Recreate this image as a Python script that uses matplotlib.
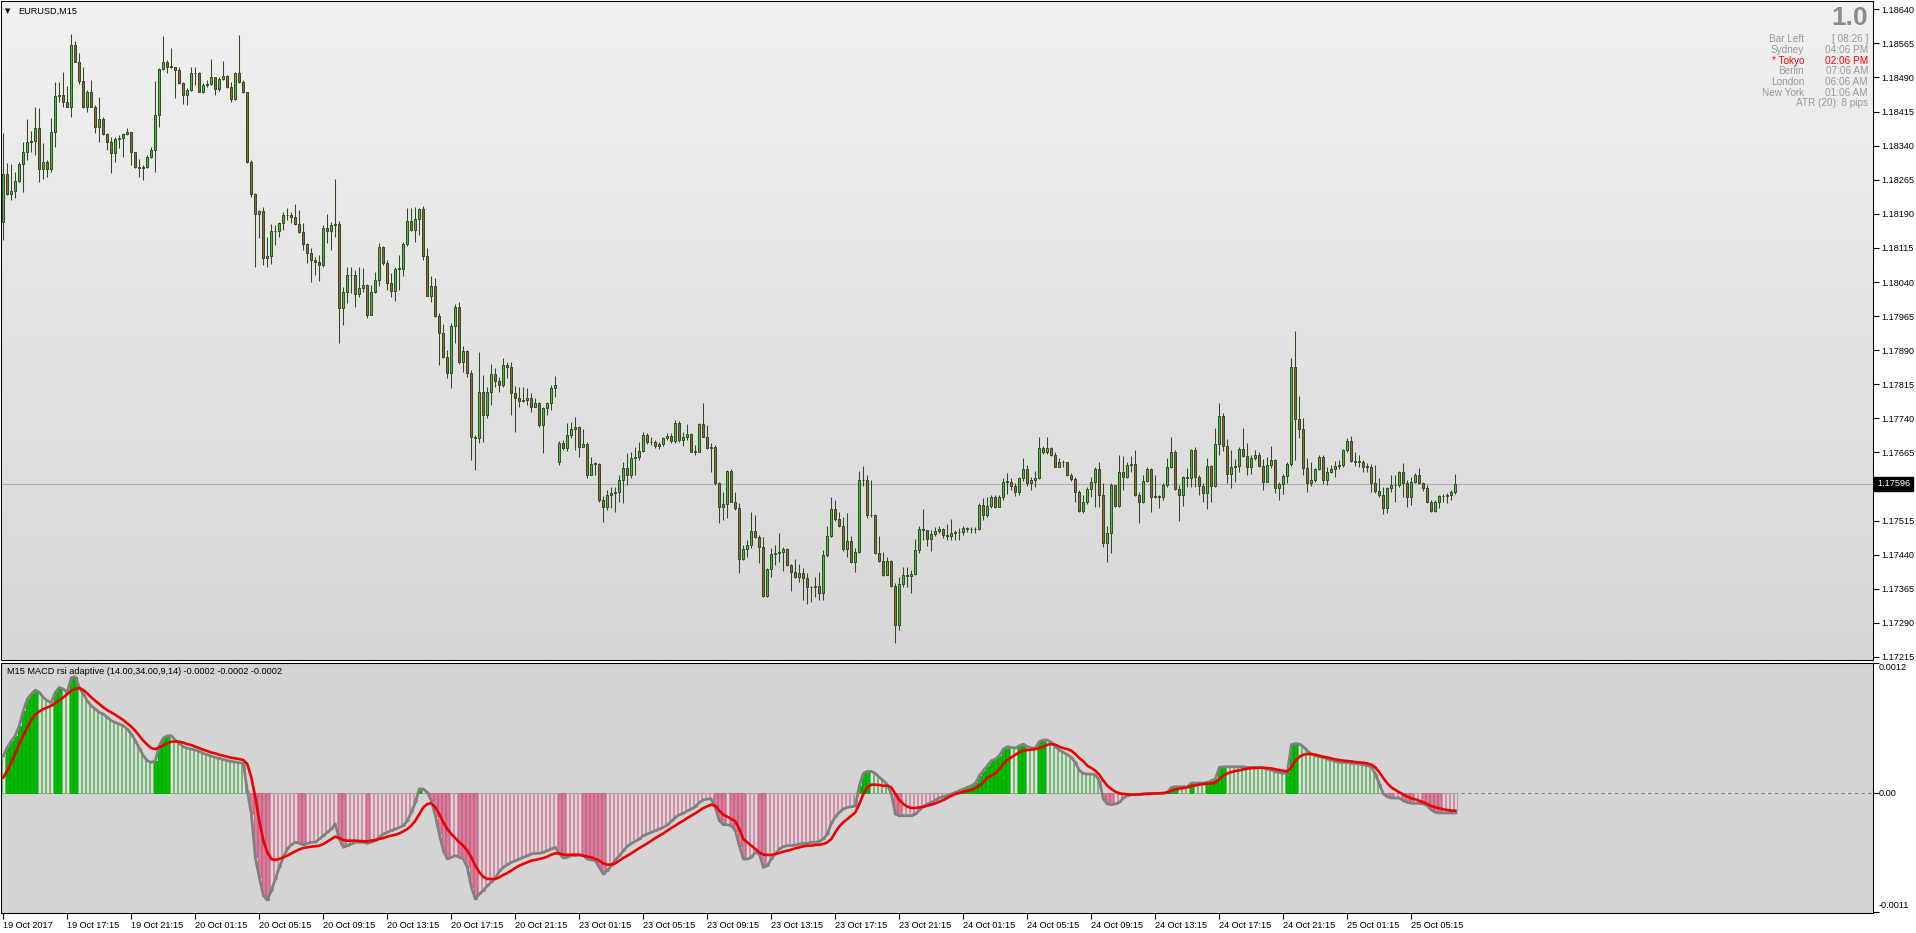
import numpy as np
import matplotlib.pyplot as plt
from matplotlib.colors import LinearSegmentedColormap

plt.rcParams['font.family'] = ['Liberation Sans', 'DejaVu Sans']

W, H = 1916, 933

# EURUSD M15 candles, prices given in pips above 1.17000
BASE = 1.17
PIP = 0.0001
closes = [
    127.8, 123.4, 124.0, 126.3, 130.0, 132.7, 134.7, 135.0, 137.8, 128.8,
    130.3, 128.9, 136.9, 144.9, 145.1, 143.7, 142.6, 156.1, 152.5, 148.3,
    142.6, 145.7, 142.6, 138.2, 139.8, 136.5, 134.7, 132.3, 135.5, 135.7,
    136.5, 136.9, 132.5, 129.4, 129.1, 129.4, 131.6, 133.0, 140.7, 150.8,
    152.3, 151.4, 151.3, 150.7, 147.7, 145.2, 146.3, 149.9, 149.9, 145.7,
    147.4, 147.6, 149.0, 146.4, 148.6, 149.3, 147.0, 144.3, 149.9, 148.1,
    145.7, 130.3, 123.3, 118.9, 119.6, 109.2, 109.7, 115.2, 115.2, 117.0,
    118.7, 118.7, 118.4, 116.8, 115.1, 112.3, 110.4, 108.8, 108.5, 107.7,
    115.8, 115.3, 116.5, 116.7, 98.3, 101.7, 105.5, 105.5, 101.3, 102.6,
    103.3, 96.7, 101.7, 104.4, 111.6, 108.1, 103.7, 102.1, 106.9, 106.9,
    112.4, 117.4, 115.4, 117.8, 120.0, 109.8, 101.0, 103.1, 96.6, 92.7,
    87.4, 83.9, 94.3, 98.6, 86.3, 88.8, 83.9, 69.8, 69.7, 79.7,
    74.7, 79.7, 83.7, 82.2, 81.3, 85.7, 85.4, 79.5, 78.5, 77.9,
    78.0, 78.4, 76.6, 77.3, 72.5, 76.2, 77.3, 80.6, 81.3, 68.5,
    67.4, 70.3, 71.7, 72.2, 67.6, 68.3, 61.5, 64.0, 64.0, 56.0,
    54.6, 57.1, 57.5, 57.9, 60.4, 63.0, 61.5, 65.2, 65.6, 66.8,
    70.3, 68.7, 68.7, 67.9, 68.4, 69.6, 70.2, 69.0, 72.9, 69.2,
    70.0, 70.5, 66.7, 66.7, 72.7, 70.0, 67.5, 67.7, 59.7, 54.6,
    55.1, 62.4, 55.7, 54.2, 43.0, 45.2, 46.1, 49.2, 48.0, 45.6,
    35.0, 40.8, 44.2, 44.4, 44.5, 45.3, 41.7, 40.3, 39.0, 39.9,
    38.8, 36.8, 37.0, 37.1, 35.5, 43.9, 48.1, 54.0, 51.8, 50.3,
    45.3, 47.0, 42.4, 44.6, 60.4, 60.4, 52.7, 52.7, 44.3, 42.7,
    39.5, 42.7, 37.2, 28.5, 37.6, 39.5, 39.4, 39.7, 45.0, 49.6,
    49.4, 47.4, 48.6, 49.3, 49.7, 48.3, 48.2, 48.8, 48.9, 49.1,
    49.9, 49.7, 49.6, 49.7, 54.9, 52.7, 54.7, 56.8, 54.6, 56.6,
    60.1, 60.0, 59.1, 57.9, 60.8, 62.9, 59.7, 60.4, 60.8, 67.4,
    66.5, 67.4, 65.9, 63.4, 64.3, 64.5, 61.5, 60.6, 57.9, 53.7,
    55.5, 58.4, 60.1, 62.9, 57.1, 46.5, 48.7, 59.3, 54.7, 62.3,
    61.2, 63.7, 64.0, 57.1, 55.7, 60.2, 62.9, 56.8, 56.8, 56.8,
    59.3, 63.2, 66.7, 58.4, 57.1, 61.0, 60.9, 67.0, 61.0, 59.1,
    57.6, 63.5, 59.1, 68.4, 74.5, 67.9, 61.8, 63.4, 63.5, 67.2,
    65.7, 63.2, 65.2, 65.9, 63.5, 60.1, 63.7, 64.8, 58.6, 59.6,
    61.3, 63.9, 85.2, 73.8, 71.6, 63.0, 59.8, 60.4, 62.8, 65.6,
    60.4, 62.3, 62.9, 63.6, 63.7, 67.0, 69.0, 64.7, 64.5, 64.5,
    63.4, 63.4, 59.8, 58.1, 57.1, 54.2, 58.6, 59.3, 59.3, 62.3,
    59.8, 56.6, 60.1, 61.5, 59.7, 58.6, 55.5, 53.7, 55.7, 57.0,
    56.9, 57.1, 57.9, 59.6,
]
highs = [
    136.7, 130.1, 130.0, 128.3, 130.5, 134.9, 139.9, 137.2, 142.4, 142.2,
    134.5, 130.9, 140.0, 147.9, 148.1, 150.3, 147.1, 158.6, 157.0, 154.3,
    151.4, 146.2, 148.5, 143.0, 144.8, 140.4, 136.7, 136.0, 136.0, 136.4,
    136.7, 137.8, 136.9, 132.7, 131.0, 129.8, 131.9, 133.6, 148.2, 151.0,
    158.1, 152.9, 155.4, 151.4, 151.4, 147.9, 146.6, 151.4, 151.4, 150.1,
    147.7, 148.5, 153.0, 149.2, 149.2, 152.7, 149.5, 148.1, 150.3, 158.3,
    148.5, 145.9, 130.8, 123.5, 119.8, 120.6, 113.8, 116.7, 116.5, 117.3,
    119.5, 120.2, 119.5, 121.2, 119.8, 116.9, 112.5, 111.4, 109.6, 109.9,
    116.5, 119.0, 117.3, 126.6, 117.4, 103.0, 107.4, 107.4, 106.6, 107.4,
    107.0, 103.6, 103.3, 106.3, 112.5, 111.9, 108.8, 105.9, 107.2, 109.9,
    112.9, 120.2, 120.2, 120.4, 120.2, 120.7, 111.4, 105.3, 104.8, 97.2,
    94.8, 89.0, 94.9, 99.2, 99.7, 89.9, 89.0, 84.6, 70.3, 88.7,
    83.5, 81.0, 86.0, 85.0, 83.2, 87.2, 86.5, 86.3, 81.2, 81.0,
    81.0, 80.6, 79.5, 78.4, 77.7, 76.6, 77.7, 81.3, 83.3, 69.0,
    69.2, 72.9, 73.3, 74.4, 72.3, 71.7, 68.9, 65.6, 64.5, 64.1,
    56.9, 58.2, 59.0, 59.0, 61.5, 64.3, 66.3, 66.5, 67.8, 68.9,
    71.1, 70.7, 70.0, 69.2, 68.9, 70.0, 70.7, 70.7, 73.6, 73.4,
    71.1, 72.7, 70.7, 68.1, 72.9, 77.3, 72.5, 68.5, 68.1, 60.1,
    57.7, 62.6, 62.9, 57.9, 55.3, 46.1, 47.2, 53.3, 52.7, 48.3,
    48.0, 41.0, 45.4, 46.1, 48.7, 45.8, 45.4, 42.0, 43.0, 42.0,
    41.0, 40.0, 37.1, 39.2, 40.3, 45.0, 50.3, 56.8, 56.0, 53.5,
    52.2, 53.2, 48.1, 45.4, 62.4, 63.5, 61.5, 60.4, 52.9, 48.1,
    44.6, 43.6, 42.8, 37.8, 39.2, 41.4, 41.4, 40.6, 47.4, 50.3,
    54.0, 49.4, 49.4, 50.2, 50.3, 49.9, 50.8, 51.8, 49.4, 49.8,
    50.3, 50.2, 50.2, 50.2, 55.3, 56.4, 56.8, 57.1, 57.1, 57.1,
    60.8, 61.9, 60.8, 59.7, 61.0, 65.2, 63.7, 61.0, 62.5, 70.0,
    68.0, 70.0, 67.8, 66.5, 65.2, 64.8, 64.5, 61.9, 61.2, 58.2,
    57.1, 58.8, 61.0, 63.2, 64.5, 59.7, 50.3, 59.7, 59.3, 65.9,
    65.7, 64.5, 65.7, 67.0, 57.9, 61.5, 63.4, 63.0, 61.5, 57.1,
    59.7, 65.2, 70.0, 67.0, 59.3, 61.3, 63.0, 67.2, 67.8, 61.5,
    59.7, 65.2, 63.7, 71.8, 77.3, 75.1, 69.4, 67.0, 65.0, 67.6,
    71.8, 68.5, 65.9, 67.0, 66.7, 65.0, 65.4, 67.9, 65.0, 60.1,
    61.8, 64.5, 87.2, 93.3, 78.9, 74.0, 65.2, 64.5, 63.0, 65.9,
    65.9, 63.4, 63.7, 64.7, 64.8, 67.2, 69.6, 70.1, 66.7, 65.9,
    64.8, 64.1, 64.0, 63.7, 60.8, 59.0, 59.0, 61.5, 61.5, 62.5,
    64.2, 60.4, 61.2, 61.9, 63.0, 60.1, 59.3, 56.0, 56.0, 57.1,
    57.4, 57.5, 58.2, 61.8,
]
lows = [
    113.3, 123.2, 122.0, 122.4, 126.1, 123.7, 130.9, 132.7, 132.0, 126.1,
    126.6, 127.0, 128.1, 133.8, 143.7, 142.4, 142.4, 140.4, 152.3, 147.6,
    142.2, 141.5, 142.4, 136.7, 134.9, 136.4, 133.0, 127.9, 130.5, 133.4,
    131.6, 136.4, 129.8, 129.0, 127.0, 126.4, 129.0, 131.2, 128.1, 138.0,
    150.7, 149.9, 151.0, 144.4, 147.6, 143.1, 142.9, 146.1, 147.4, 145.7,
    145.5, 147.0, 147.4, 145.2, 146.1, 148.5, 146.6, 143.7, 144.0, 147.7,
    145.5, 130.1, 122.8, 107.4, 113.6, 107.7, 107.4, 108.0, 112.1, 113.8,
    115.4, 117.6, 116.9, 116.5, 114.8, 111.0, 108.1, 104.1, 105.5, 104.3,
    107.2, 112.5, 111.0, 114.0, 90.6, 94.5, 99.3, 101.5, 98.6, 100.8,
    101.9, 96.0, 96.7, 101.5, 103.1, 107.7, 102.3, 100.8, 99.9, 102.3,
    105.3, 111.9, 115.3, 112.7, 114.3, 108.8, 100.9, 99.7, 96.4, 85.7,
    87.2, 82.8, 80.6, 90.6, 86.0, 84.1, 83.2, 64.8, 62.6, 68.5,
    68.9, 74.0, 76.9, 81.0, 79.9, 80.8, 82.9, 74.7, 70.9, 76.6,
    77.5, 76.9, 75.5, 76.4, 72.0, 66.3, 74.7, 75.8, 78.8, 63.7,
    67.0, 66.8, 69.6, 67.0, 65.6, 67.6, 60.8, 61.5, 61.5, 55.7,
    51.3, 53.8, 54.2, 53.5, 55.5, 55.3, 59.3, 60.8, 61.5, 64.8,
    66.5, 68.4, 68.1, 67.4, 67.3, 68.0, 69.2, 68.5, 68.5, 68.9,
    68.0, 69.2, 66.5, 65.9, 66.7, 69.8, 67.3, 62.1, 59.3, 50.9,
    51.6, 52.0, 55.5, 53.8, 40.0, 42.8, 43.6, 45.4, 47.6, 42.1,
    34.8, 34.6, 39.0, 41.7, 42.5, 40.5, 41.5, 36.1, 38.8, 38.1,
    34.0, 33.2, 33.5, 34.8, 34.0, 34.0, 43.6, 48.0, 51.5, 50.2,
    44.9, 43.6, 42.1, 40.3, 44.3, 59.1, 52.0, 52.4, 44.2, 42.4,
    39.3, 39.5, 37.0, 24.6, 27.4, 37.0, 37.0, 35.5, 39.5, 44.3,
    47.2, 45.9, 44.9, 48.1, 48.7, 47.6, 47.2, 47.2, 47.2, 47.2,
    48.3, 49.1, 48.8, 48.8, 49.4, 51.6, 52.4, 54.2, 54.2, 54.4,
    56.0, 57.4, 58.2, 56.9, 57.1, 60.3, 59.1, 58.2, 58.8, 60.6,
    66.2, 66.2, 65.7, 63.2, 63.4, 63.4, 61.4, 60.3, 55.7, 53.5,
    53.2, 55.2, 56.8, 54.6, 54.4, 45.8, 42.4, 44.3, 54.6, 54.6,
    58.2, 60.8, 62.3, 56.9, 51.0, 55.4, 60.1, 53.5, 56.4, 54.2,
    56.0, 59.0, 63.0, 58.2, 51.5, 54.7, 58.8, 58.8, 59.0, 57.1,
    55.7, 54.0, 55.7, 58.8, 65.9, 66.9, 59.7, 58.6, 60.1, 62.3,
    65.6, 61.5, 61.8, 64.8, 63.4, 58.2, 59.9, 63.0, 57.6, 56.0,
    57.4, 59.7, 63.5, 64.8, 69.6, 61.5, 57.9, 59.2, 60.1, 62.6,
    59.6, 59.3, 61.9, 61.0, 62.8, 63.4, 66.7, 64.5, 63.5, 63.4,
    62.1, 62.1, 57.9, 57.5, 56.8, 53.0, 53.1, 57.9, 55.7, 59.0,
    56.8, 54.6, 54.9, 59.7, 59.6, 58.1, 55.3, 53.5, 53.5, 54.2,
    55.7, 55.3, 56.0, 57.3,
]
# opens follow the prior close except the first bar and the Monday gap
gap_opens = {0: 117.1, 139: 64.5}
current_price = 1.17596

# MACD rsi adaptive (14,34,9,14), values in units of 0.0001
macd_main = [
    3.41, 4.17, 4.79, 5.25, 6.17, 7.55, 8.63, 9.09, 9.46, 9.24,
    8.78, 8.47, 8.32, 9.24, 9.70, 9.55, 9.24, 10.62, 10.68, 9.70,
    9.09, 8.47, 8.01, 7.71, 7.40, 7.25, 6.94, 6.63, 6.48, 6.32,
    6.17, 5.86, 5.40, 4.79, 4.11, 3.41, 2.95, 2.79, 2.95, 4.33,
    5.03, 5.25, 5.25, 4.85, 4.54, 4.24, 4.11, 4.02, 3.93, 3.81,
    3.62, 3.50, 3.38, 3.25, 3.16, 3.07, 2.95, 2.89, 2.82, 2.76,
    2.70, 0.18, -1.96, -5.96, -7.80, -9.49, -9.89, -9.03, -7.95, -6.88,
    -5.96, -5.19, -4.79, -4.57, -4.67, -4.79, -4.67, -4.57, -4.57, -4.27,
    -3.96, -3.65, -3.35, -2.89, -4.27, -5.03, -4.88, -4.73, -4.57, -4.57,
    -4.57, -4.67, -4.57, -4.42, -4.11, -3.81, -3.65, -3.50, -3.35, -3.19,
    -3.04, -2.58, -1.81, -0.89, 0.34, 0.34, 0.03, -0.74, -2.12, -3.81,
    -5.34, -6.11, -5.96, -5.80, -5.96, -6.11, -6.88, -8.72, -9.79, -9.33,
    -9.03, -8.57, -8.26, -7.86, -7.25, -6.88, -6.63, -6.42, -6.26, -6.11,
    -5.96, -5.80, -5.65, -5.59, -5.59, -5.50, -5.34, -5.19, -5.03, -5.65,
    -6.02, -5.96, -5.80, -5.80, -5.71, -5.80, -6.11, -6.20, -6.26, -6.88,
    -7.49, -7.18, -6.72, -6.20, -5.80, -5.34, -4.94, -4.67, -4.48, -4.27,
    -3.96, -3.81, -3.65, -3.50, -3.35, -3.19, -2.98, -2.64, -2.27, -2.03,
    -1.90, -1.66, -1.50, -1.29, -0.89, -0.68, -0.58, -0.58, -1.35, -2.58,
    -2.95, -2.95, -3.04, -3.50, -4.88, -6.11, -6.11, -5.96, -5.50, -5.65,
    -6.88, -6.72, -6.11, -5.65, -5.19, -4.97, -4.88, -4.88, -4.82, -4.73,
    -4.67, -4.67, -4.57, -4.57, -4.48, -4.27, -3.81, -2.82, -2.21, -1.81,
    -1.50, -1.35, -1.29, -1.23, 0.64, 1.78, 1.96, 1.96, 1.78, 1.41,
    1.10, 0.74, -0.12, -1.96, -2.12, -2.12, -2.12, -2.12, -1.96, -1.60,
    -1.29, -1.04, -0.89, -0.68, -0.49, -0.37, -0.28, -0.12, 0.03, 0.18,
    0.34, 0.49, 0.64, 0.86, 1.57, 2.03, 2.49, 2.95, 3.10, 3.41,
    4.02, 4.24, 4.17, 4.11, 4.33, 4.48, 4.24, 4.11, 4.11, 4.73,
    4.85, 4.85, 4.64, 4.24, 3.93, 3.71, 3.50, 3.25, 2.79, 2.03,
    1.78, 1.72, 1.72, 1.66, 1.10, -0.58, -1.04, -1.10, -1.04, -0.89,
    -0.49, -0.28, -0.18, -0.18, -0.18, -0.12, -0.06, -0.06, -0.06, -0.06,
    -0.06, 0.03, 0.49, 0.55, 0.55, 0.55, 0.55, 0.89, 0.89, 0.89,
    0.89, 0.95, 1.10, 1.26, 2.33, 2.39, 2.39, 2.39, 2.39, 2.39,
    2.39, 2.33, 2.33, 2.33, 2.33, 2.27, 2.18, 2.09, 1.93, 1.87,
    1.78, 1.87, 4.42, 4.54, 4.48, 4.24, 3.87, 3.56, 3.41, 3.31,
    3.25, 3.10, 3.01, 2.89, 2.79, 2.79, 2.79, 2.70, 2.70, 2.64,
    2.58, 2.49, 2.39, 1.72, 0.80, -0.12, -0.37, -0.49, -0.49, -0.49,
    -0.74, -0.89, -0.98, -0.98, -0.98, -1.04, -1.20, -1.60, -1.81, -1.87,
    -1.87, -1.87, -1.87, -1.87,
]
macd_signal = [
    1.41, 2.03, 2.79, 3.62, 4.48, 5.25, 6.02, 6.69, 7.18, 7.49,
    7.71, 7.86, 8.01, 8.26, 8.53, 8.78, 9.09, 9.39, 9.58, 9.64,
    9.46, 9.15, 8.78, 8.47, 8.17, 7.86, 7.61, 7.40, 7.18, 6.94,
    6.69, 6.39, 6.08, 5.71, 5.25, 4.79, 4.42, 4.11, 4.02, 4.17,
    4.39, 4.54, 4.70, 4.73, 4.70, 4.61, 4.48, 4.39, 4.24, 4.11,
    3.96, 3.84, 3.71, 3.62, 3.50, 3.41, 3.31, 3.22, 3.16, 3.10,
    3.01, 2.64, 1.41, -0.43, -2.58, -4.42, -5.50, -6.11, -6.20, -6.11,
    -5.96, -5.80, -5.59, -5.40, -5.22, -5.10, -5.03, -4.97, -4.94, -4.88,
    -4.73, -4.51, -4.27, -4.05, -4.18, -4.36, -4.42, -4.42, -4.42, -4.45,
    -4.48, -4.48, -4.42, -4.36, -4.27, -4.18, -4.05, -3.96, -3.87, -3.75,
    -3.56, -3.35, -3.04, -2.58, -1.96, -1.35, -1.04, -0.98, -1.35, -1.96,
    -2.73, -3.35, -3.81, -4.18, -4.57, -4.88, -5.34, -5.96, -6.72, -7.34,
    -7.74, -7.95, -7.95, -7.95, -7.80, -7.58, -7.40, -7.18, -6.94, -6.72,
    -6.57, -6.42, -6.26, -6.20, -6.11, -6.02, -5.89, -5.71, -5.59, -5.59,
    -5.71, -5.74, -5.71, -5.71, -5.74, -5.80, -5.89, -5.96, -6.11, -6.26,
    -6.51, -6.63, -6.63, -6.51, -6.26, -6.02, -5.80, -5.59, -5.34, -5.10,
    -4.88, -4.67, -4.42, -4.18, -3.96, -3.75, -3.50, -3.25, -3.04, -2.79,
    -2.58, -2.33, -2.12, -1.90, -1.66, -1.41, -1.26, -1.10, -1.20, -1.66,
    -2.03, -2.21, -2.43, -2.64, -3.35, -4.27, -4.57, -4.88, -5.19, -5.50,
    -5.71, -5.74, -5.74, -5.65, -5.56, -5.43, -5.34, -5.25, -5.13, -5.03,
    -4.94, -4.88, -4.88, -4.82, -4.79, -4.73, -4.57, -4.27, -3.65, -3.10,
    -2.73, -2.43, -2.12, -1.81, -1.04, -0.12, 0.49, 0.74, 0.74, 0.71,
    0.64, 0.64, 0.49, -0.12, -0.68, -1.04, -1.29, -1.41, -1.41, -1.35,
    -1.29, -1.20, -1.10, -0.98, -0.83, -0.68, -0.49, -0.28, -0.12, -0.03,
    0.09, 0.18, 0.25, 0.40, 0.64, 0.95, 1.41, 1.57, 1.78, 2.18,
    2.64, 3.01, 3.25, 3.50, 3.71, 3.87, 3.93, 3.96, 4.02, 4.11,
    4.24, 4.42, 4.48, 4.42, 4.24, 4.11, 4.02, 3.87, 3.56, 3.19,
    2.89, 2.49, 2.27, 2.03, 1.66, 1.10, 0.64, 0.34, 0.09, -0.06,
    -0.12, -0.15, -0.18, -0.18, -0.15, -0.12, -0.12, -0.09, -0.06, -0.06,
    -0.03, 0.03, 0.18, 0.31, 0.37, 0.43, 0.49, 0.61, 0.68, 0.74,
    0.80, 0.83, 0.86, 0.95, 1.26, 1.57, 1.78, 1.90, 2.00, 2.06,
    2.15, 2.21, 2.27, 2.27, 2.30, 2.30, 2.27, 2.24, 2.15, 2.09,
    2.03, 1.96, 2.33, 2.95, 3.31, 3.50, 3.56, 3.56, 3.50, 3.41,
    3.31, 3.25, 3.16, 3.07, 3.01, 2.95, 2.92, 2.89, 2.82, 2.79,
    2.76, 2.70, 2.58, 2.33, 1.87, 1.35, 0.86, 0.49, 0.25, 0.03,
    -0.18, -0.37, -0.52, -0.61, -0.74, -0.89, -1.04, -1.23, -1.35, -1.44,
    -1.53, -1.60, -1.66, -1.66,
]

time_labels = [
    '19 Oct 2017', '19 Oct 17:15', '19 Oct 21:15', '20 Oct 01:15', '20 Oct 05:15',
    '20 Oct 09:15', '20 Oct 13:15', '20 Oct 17:15', '20 Oct 21:15', '23 Oct 01:15',
    '23 Oct 05:15', '23 Oct 09:15', '23 Oct 13:15', '23 Oct 17:15', '23 Oct 21:15',
    '24 Oct 01:15', '24 Oct 05:15', '24 Oct 09:15', '24 Oct 13:15', '24 Oct 17:15',
    '24 Oct 21:15', '25 Oct 01:15', '25 Oct 05:15',
]
label_bars = list(range(0, 16 * len(time_labels), 16))

info_names = ['Bar Left', 'Sydney', '* Tokyo', 'Berlin', 'London', 'New York']
info_values = ['[ 08:26 ]', '04:06 PM', '02:06 PM', '07:06 AM', '06:06 AM', '01:06 AM']


def fx(px):
    return px / W


def fy(py):
    return 1 - py / H


n = len(closes)
x = np.arange(n)
c = BASE + np.array(closes) * PIP
hi = BASE + np.array(highs) * PIP
lo = BASE + np.array(lows) * PIP
o = BASE + np.array([gap_opens.get(i, closes[i - 1]) for i in range(n)]) * PIP

XLIM = (-0.575, 467.4)
WICK = '#2e4a22'
BULL = '#4cbc3c'
BEAR = '#a0603a'
LBL = 6.6

fig = plt.figure(figsize=(W / 100, H / 100), dpi=100, facecolor='white')
ax1 = fig.add_axes([fx(1), fy(660), fx(1873) - fx(1), fy(1) - fy(660)])
ax2 = fig.add_axes([fx(1), fy(912.7), fx(1873) - fx(1), fy(662.5) - fy(912.7)])

# price pane: light gradient background
grad = np.linspace(0, 1, 256).reshape(-1, 1)
bg = LinearSegmentedColormap.from_list('bg', ['#d6d6d6', '#f1f1f1'])
ax1.imshow(grad, extent=(0, 1, 0, 1), transform=ax1.transAxes, origin='lower',
           aspect='auto', cmap=bg, zorder=0)

ax1.axhline(current_price, color='#b0b0b0', lw=0.8, zorder=1)
ax1.vlines(x, lo, hi, color=WICK, lw=0.75, zorder=2)
body_lo = np.minimum(o, c)
body_h = np.maximum(np.abs(c - o), 0.12 * PIP)
ax1.bar(x, body_h, bottom=body_lo, width=0.5, color=np.where(c >= o, BULL, BEAR),
        edgecolor=WICK, linewidth=0.7, zorder=3)

ax1.set_xlim(*XLIM)
ax1.set_ylim(BASE + 20.83 * PIP, BASE + 165.83 * PIP)
ticks = np.round(np.arange(1.17215, 1.186401, 0.00075), 5)
ax1.yaxis.tick_right()
ax1.set_yticks(ticks)
# the label next to the current price box is hidden, as in the terminal
ax1.set_yticklabels(['' if abs(t - current_price) < 0.0002 else f'{t:.5f}' for t in ticks])
ax1.set_xticks([])
ax1.tick_params(axis='y', length=4, width=0.8, pad=2, labelsize=LBL, colors='black')

fig.text(fx(1877), fy(484), '1.17596', color='white', fontsize=LBL, ha='left', va='center',
         bbox=dict(boxstyle='square,pad=0.3', facecolor='black', edgecolor='black'))

# MACD pane
m = np.array(macd_main) * 1e-4
s = np.array(macd_signal) * 1e-4
prev = np.concatenate([[m[0]], m[:-1]])
fills, edges = [], []
for v, p in zip(m, prev):
    if v >= 0:
        if v > p:
            fills.append('#00c000'); edges.append('#00a800')
        else:
            fills.append('#c8efc8'); edges.append('#8aa88a')
    else:
        if v < p:
            fills.append('#e27a9c'); edges.append('#c06a86')
        else:
            fills.append('#f4c9d8'); edges.append('#b79aa6')

ax2.set_facecolor('#d4d4d4')
ax2.axhline(0, color='#808080', lw=0.8, ls=(0, (3, 3)), zorder=1)
ax2.bar(x, m, width=0.6, color=fills, edgecolor=edges, linewidth=0.7, zorder=2)
ax2.plot(x, m, color='#808080', lw=2.0, zorder=3)
ax2.plot(x, s, color='#ee0000', lw=1.9, zorder=4)
ax2.set_xlim(*XLIM)
ax2.set_ylim(-0.001106, 0.0012)
ax2.yaxis.tick_right()
ax2.set_yticks([0.0012, 0.0, -0.0011])
ax2.set_yticklabels([])
ax2.tick_params(axis='y', length=4, width=0.8, colors='black')
ax2.set_xticks(label_bars)
ax2.set_xticklabels(time_labels, ha='left')
ax2.tick_params(axis='x', length=4, width=0.8, pad=2, labelsize=LBL, colors='black')

# scale labels of the indicator window sit inside its top and bottom edges
for txt, py in (('0.0012', 667), ('0.00', 794), ('-0.0011', 905.7)):
    fig.text(fx(1879), fy(py), txt, fontsize=LBL, ha='left', va='center')

for ax in (ax1, ax2):
    for sp in ax.spines.values():
        sp.set_color('black')
        sp.set_linewidth(0.75)

# header texts
fig.text(fx(5), fy(11), '\u25bc', fontsize=5, family='DejaVu Sans', ha='left', va='center')
fig.text(fx(18), fy(11), 'EURUSD,M15', fontsize=LBL, ha='left', va='center')
fig.text(fx(7), fy(672), 'M15 MACD rsi adaptive (14.00,34.00,9,14) -0.0002 -0.0002 -0.0002',
         fontsize=LBL, ha='left', va='center')

# info panel top right
fig.text(fx(1868), fy(18), '1.0', fontsize=19, fontweight='bold', color='#8c8c8c',
         ha='right', va='center')
for k, (name, val) in enumerate(zip(info_names, info_values)):
    col = '#ff0000' if 'Tokyo' in name else '#9a9a9a'
    yy = fy(39.3 + 10.66 * k)
    fig.text(fx(1804), yy, name, fontsize=7.2, color=col, ha='right', va='center')
    fig.text(fx(1868), yy, val, fontsize=7.2, color=col, ha='right', va='center')
fig.text(fx(1868), fy(103.3), 'ATR (20): 8 pips', fontsize=7.2, color='#9a9a9a',
         ha='right', va='center')

fig.savefig('out.png', dpi=100, facecolor='white')
